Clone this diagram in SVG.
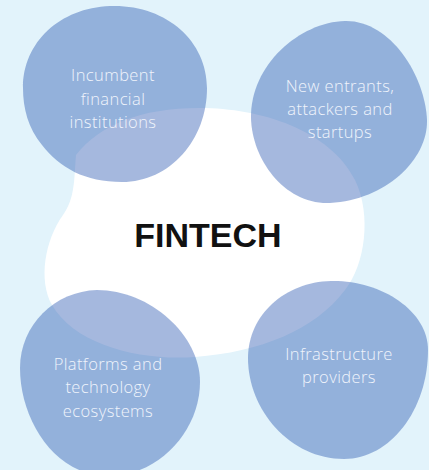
<svg xmlns="http://www.w3.org/2000/svg" width="429" height="470" viewBox="0 0 429 470">
<style>
.blob{fill:rgb(30,77,172);fill-opacity:0.4}
.lbl{font-family:"Open Sans","Noto Sans",sans-serif;font-weight:300;font-size:16.5px;letter-spacing:0.4px;fill:#f0f4fb;text-anchor:middle}
.title{font-family:"Liberation Sans",Arial,sans-serif;font-weight:bold;font-size:34px;fill:#111;text-anchor:middle}
</style>
<rect width="429" height="470" fill="#e2f3fb"/>
<g id="center">
<path d="M 76 155 C 100 125 140 108 200 108 C 260 108 330 130 355 180 C 372 215 365 265 345 290 C 315 330 260 352 195 357 C 140 361 75 345 52 305 C 38 280 45 240 63 215 C 75 198 74 180 76 155 Z" fill="#ffffff"/>
<text class="title" x="208" y="247">FINTECH</text>
</g>
<g id="incumbent">
<path class="blob" d="M 110 6 C 165 4 207 40 207 88 C 207 140 170 182 122 182 C 85 182 60 168 42 145 C 28 128 23 108 23 88 C 23 42 60 8 110 6 Z"/>
<text class="lbl" x="113" y="81">Incumbent</text>
<text class="lbl" x="113" y="105">financial</text>
<text class="lbl" x="113" y="128">institutions</text>
</g>
<g id="entrants">
<path class="blob" d="M 345 21 C 390 20 425 75 427 120 C 428 160 385 200 330 203 C 285 205 252 160 251 118 C 250 65 300 22 345 21 Z"/>
<text class="lbl" x="340" y="92">New entrants,</text>
<text class="lbl" x="340" y="115">attackers and</text>
<text class="lbl" x="340" y="138">startups</text>
</g>
<g id="platforms">
<path class="blob" d="M 97 290 C 150 290 200 335 200 382 C 200 430 160 475 110 476 C 55 477 20 420 20 368 C 20 325 55 291 97 290 Z"/>
<text class="lbl" x="108" y="370">Platforms and</text>
<text class="lbl" x="108" y="393">technology</text>
<text class="lbl" x="108" y="417">ecosystems</text>
</g>
<g id="infrastructure">
<path class="blob" d="M 331 281 C 380 280 428 310 428 350 C 428 410 390 459 344 459 C 290 459 248 410 248 358 C 248 315 285 282 331 281 Z"/>
<text class="lbl" x="339" y="360">Infrastructure</text>
<text class="lbl" x="339" y="383">providers</text>
</g>
<g id="connectors"/>
</svg>
